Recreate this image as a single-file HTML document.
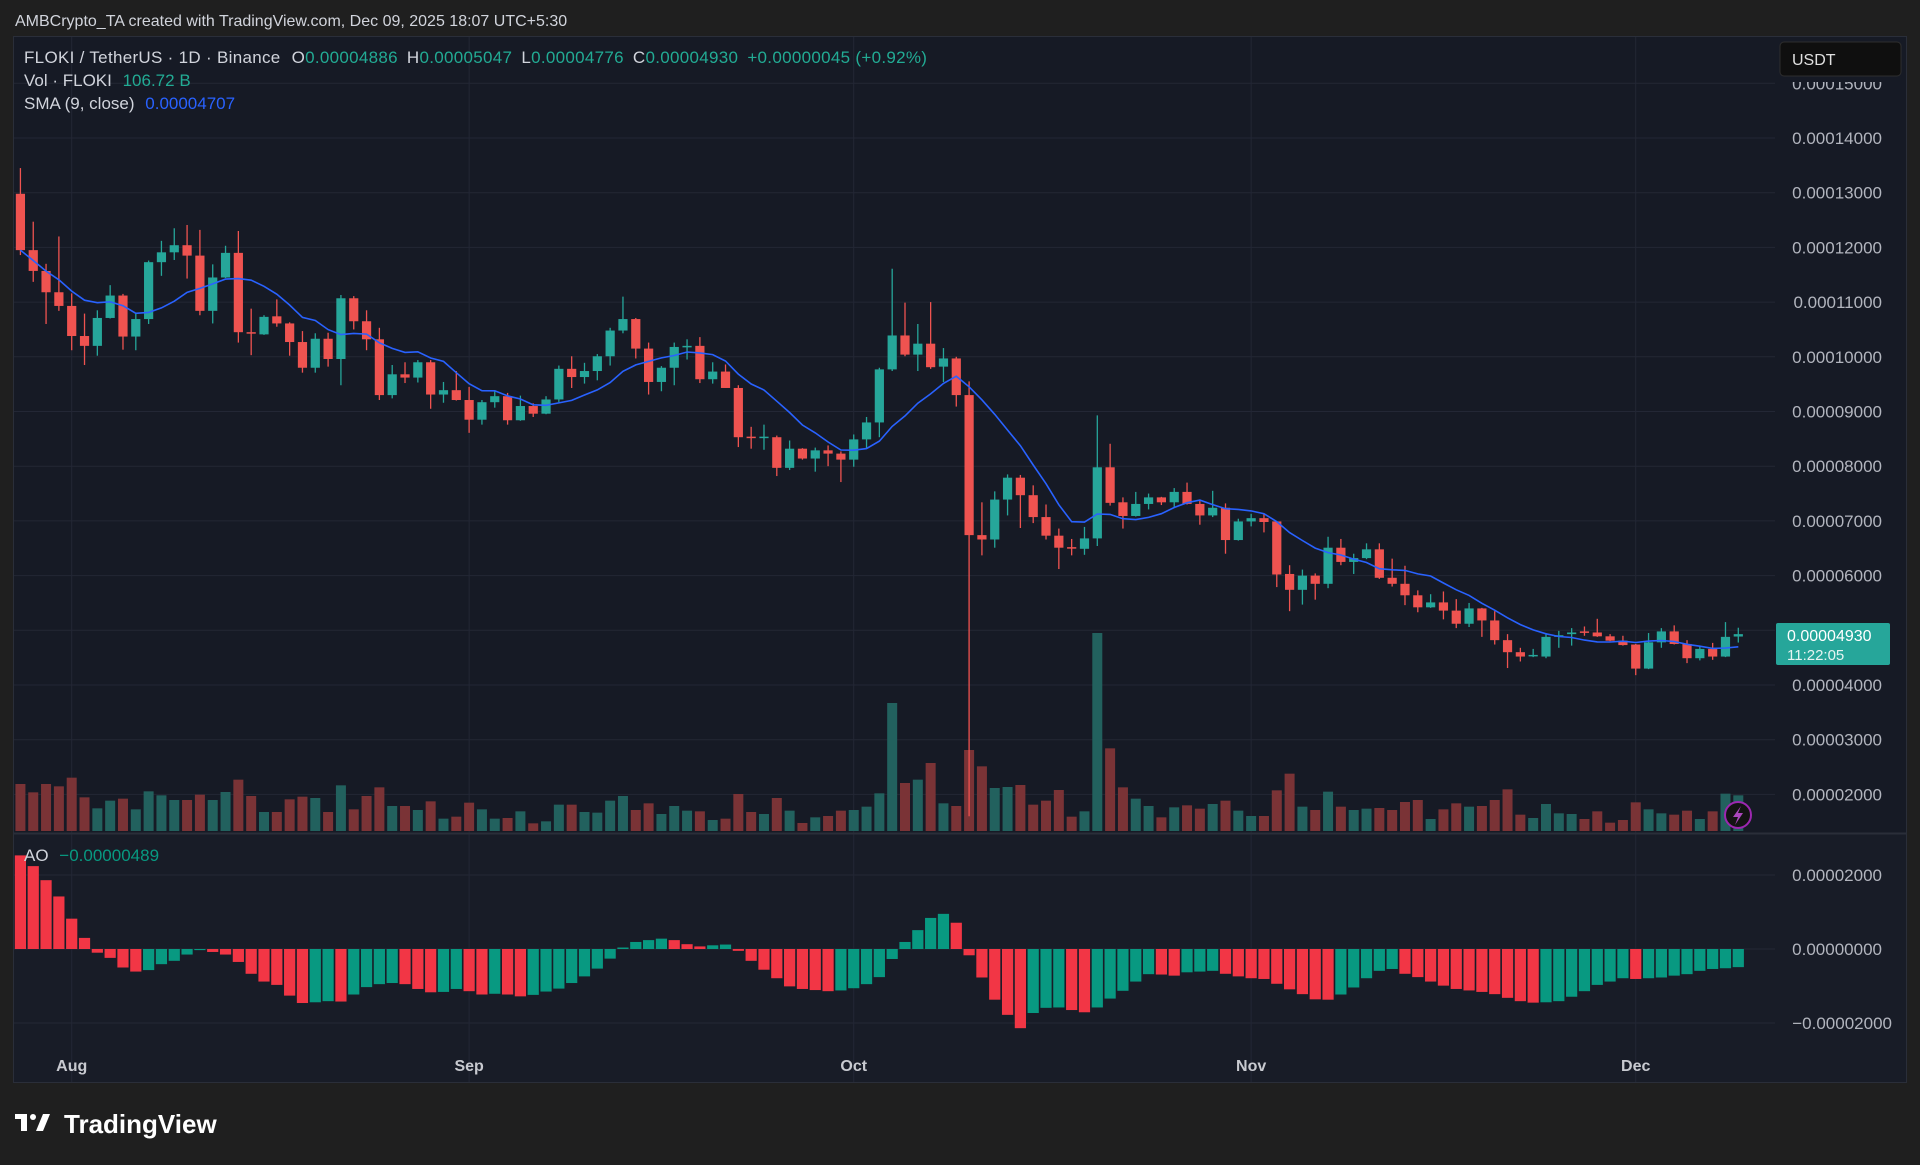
<!DOCTYPE html>
<html><head><meta charset="utf-8"><style>
html,body{margin:0;padding:0;background:#1f1f1f;}
svg{display:block;font-family:"Liberation Sans",sans-serif;}
</style></head><body>
<svg id="chart" width="1920" height="1165" viewBox="0 0 1920 1165" xmlns="http://www.w3.org/2000/svg">
<rect x="0" y="0" width="1920" height="1165" fill="#1f1f1f"/>
<text x="15" y="26" font-size="16" fill="#d1d4dc">AMBCrypto_TA created with TradingView.com, Dec 09, 2025 18:07 UTC+5:30</text>
<rect x="13.5" y="36.5" width="1893" height="1046" fill="#161a25" stroke="#2a2e39"/>
<rect x="14" y="834" width="1892" height="248" fill="#181c27"/>
<g id="grid"></g>
<g id="volumes"></g>
<g id="candles"></g>
<path id="sma" fill="none" stroke="#2962ff" stroke-width="1.6"/>
<g id="ao"></g>
<line x1="14" y1="833.5" x2="1906" y2="833.5" stroke="#2a2e39" stroke-width="2"/>
<g id="axes"></g>
<rect x="1776" y="37" width="130" height="45" fill="#161a25"/>
<g font-size="17">
<text x="24" y="63" fill="#d1d4dc" letter-spacing="0.3">FLOKI / TetherUS · 1D · Binance <tspan dx="6">O</tspan><tspan fill="#22ab94">0.00004886</tspan><tspan dx="9">H</tspan><tspan fill="#22ab94">0.00005047</tspan><tspan dx="9">L</tspan><tspan fill="#22ab94">0.00004776</tspan><tspan dx="9">C</tspan><tspan fill="#22ab94">0.00004930</tspan><tspan dx="9" fill="#22ab94">+0.00000045 (+0.92%)</tspan></text>
<text x="24" y="86" fill="#d1d4dc">Vol · FLOKI <tspan dx="6" fill="#22ab94">106.72 B</tspan></text>
<text x="24" y="109" fill="#d1d4dc">SMA (9, close) <tspan dx="6" fill="#2962ff">0.00004707</tspan></text>
<text x="24" y="861" fill="#d1d4dc">AO <tspan dx="6" fill="#089981">−0.00000489</tspan></text>
</g>
<rect x="1780" y="42" width="121" height="34" rx="4" fill="#0f0f0f" stroke="#2e2e2e"/>
<text x="1792" y="65" font-size="16" fill="#e0e0e0">USDT</text>
<rect x="1776" y="623" width="114" height="42" rx="2" fill="#26a69a"/>
<text x="1787" y="641" font-size="16" fill="#ffffff">0.00004930</text>
<text x="1787" y="660" font-size="15" fill="#e6f4f2">11:22:05</text>
<g>
<circle cx="1738" cy="815" r="13" fill="#131313" stroke="#9c27b0" stroke-width="2"/>
<polygon points="1741,806 1733,817 1738,817 1735,825 1743,813 1738,813" fill="#ab47bc"/>
</g>
<g>
<rect x="15" y="1114" width="12" height="5" fill="#ffffff"/>
<rect x="21" y="1114" width="6" height="17" fill="#ffffff"/>
<circle cx="33" cy="1117" r="3" fill="#ffffff"/>
<polygon points="36,1131 43,1114 50,1114 43,1131" fill="#ffffff"/>
<text x="64" y="1133" font-size="26" font-weight="bold" fill="#ffffff">TradingView</text>
</g>
</svg>
<script>
const opens=[12.98,11.95,11.57,11.18,10.93,10.38,10.2,10.71,11.12,10.37,10.69,11.73,11.91,12.04,11.85,10.84,11.45,11.9,10.45,10.41,10.74,10.61,10.27,9.8,10.33,9.96,11.07,10.65,10.32,9.3,9.68,9.62,9.9,9.31,9.39,9.21,8.85,9.17,9.28,8.84,9.1,8.96,9.22,9.78,9.63,9.74,10.01,10.48,10.69,10.15,9.54,9.8,10.18,10.2,9.59,9.73,9.43,8.54,8.53,8.53,7.97,8.32,8.14,8.29,8.23,8.12,8.49,8.8,9.77,10.39,10.04,10.24,9.82,9.97,9.3,6.74,6.66,7.39,7.79,7.47,7.07,6.73,6.52,6.49,6.68,7.98,7.34,7.09,7.31,7.43,7.34,7.53,7.31,7.1,7.24,6.65,6.99,7.05,6.99,6.03,5.74,6.0,5.85,6.51,6.25,6.32,6.48,5.96,5.85,5.64,5.42,5.51,5.36,5.12,5.4,5.18,4.82,4.6,4.54,4.52,4.88,4.93,4.98,4.96,4.89,4.81,4.74,4.3,4.78,4.98,4.75,4.49,4.66,4.52,4.886];
const highs=[13.45,12.47,11.7,12.2,11.16,10.79,10.85,11.31,11.15,10.8,11.76,12.12,12.35,12.41,12.32,11.69,12.03,12.3,10.88,10.76,11.05,10.63,10.47,10.43,10.44,11.13,11.11,10.85,10.53,9.85,9.9,9.94,9.94,9.54,9.74,9.45,9.21,9.39,9.34,9.29,9.15,9.28,9.84,10.01,9.89,10.05,10.53,11.1,10.71,10.26,9.83,10.26,10.32,10.36,9.9,9.86,9.48,8.72,8.76,8.56,8.47,8.33,8.34,8.38,8.27,8.58,8.9,9.8,11.61,10.99,10.6,11.0,10.16,10.0,9.55,7.34,7.54,7.85,7.84,7.65,7.3,6.86,6.67,6.89,8.93,8.41,7.43,7.53,7.5,7.44,7.6,7.7,7.39,7.55,7.32,7.04,7.13,7.13,6.99,6.19,6.11,6.04,6.71,6.67,6.4,6.59,6.59,6.31,6.18,5.73,5.66,5.71,5.57,5.5,5.41,5.35,4.93,4.68,4.66,4.95,4.99,5.04,5.07,5.21,4.93,4.9,4.75,4.95,5.04,5.09,4.82,4.71,4.77,5.15,5.047];
const lows=[11.86,11.37,10.6,10.84,10.12,9.85,10.02,10.7,10.13,10.12,10.6,11.48,11.77,11.43,10.76,10.61,11.44,10.26,10.03,10.4,10.55,10.02,9.71,9.71,9.82,9.48,10.5,10.12,9.21,9.24,9.52,9.53,9.05,9.16,9.2,8.61,8.76,9.07,8.76,8.83,8.9,8.95,9.17,9.43,9.51,9.57,9.84,10.43,9.97,9.31,9.37,9.48,9.95,9.52,9.51,9.43,8.35,8.32,8.3,7.82,7.93,8.12,7.9,8.0,7.71,7.99,8.32,8.53,9.74,10.01,9.74,9.78,9.54,9.09,1.6,6.37,6.51,7.1,6.87,6.96,6.66,6.12,6.37,6.38,6.54,7.28,6.86,7.08,7.21,7.29,7.24,7.3,6.93,7.07,6.4,6.64,6.9,6.79,5.79,5.35,5.47,5.56,5.77,6.19,6.03,6.3,5.94,5.8,5.46,5.33,5.41,5.2,5.04,5.06,4.88,4.74,4.31,4.43,4.51,4.49,4.68,4.72,4.9,4.88,4.8,4.72,4.18,4.29,4.68,4.74,4.4,4.45,4.46,4.51,4.776];
const closes=[11.95,11.57,11.18,10.93,10.38,10.2,10.71,11.12,10.37,10.69,11.73,11.91,12.04,11.85,10.84,11.45,11.9,10.45,10.43,10.73,10.61,10.27,9.8,10.33,9.96,11.07,10.65,10.32,9.3,9.68,9.62,9.9,9.31,9.39,9.21,8.85,9.17,9.28,8.84,9.1,8.96,9.22,9.78,9.63,9.74,10.01,10.48,10.69,10.15,9.54,9.8,10.18,10.2,9.59,9.73,9.43,8.53,8.53,8.54,7.97,8.32,8.14,8.29,8.23,8.12,8.49,8.8,9.77,10.39,10.04,10.24,9.81,9.97,9.3,6.74,6.66,7.39,7.79,7.47,7.07,6.73,6.51,6.51,6.68,7.98,7.33,7.09,7.31,7.43,7.34,7.53,7.31,7.1,7.24,6.65,6.99,7.05,6.98,6.02,5.74,6.0,5.85,6.51,6.25,6.32,6.48,5.96,5.85,5.64,5.42,5.51,5.36,5.12,5.4,5.18,4.82,4.6,4.52,4.55,4.88,4.91,4.96,4.96,4.89,4.81,4.73,4.3,4.78,4.98,4.75,4.49,4.66,4.52,4.88,4.93];
const volumes=[141,116,141,134,160,101,68,91,97,65,119,107,93,93,109,93,117,154,105,57,57,95,103,99,57,137,65,105,131,75,75,63,89,37,43,85,65,37,39,59,23,29,79,79,57,55,91,105,63,83,51,75,61,59,33,37,111,57,51,99,61,24,41,45,61,63,73,113,384,144,154,204,83,75,243,194,129,132,138,79,91,123,43,59,594,248,131,97,75,41,71,77,67,81,91,61,45,45,122,172,73,63,118,73,63,67,69,63,87,93,36,65,83,73,75,93,125,49,39,81,53,51,36,59,25,33,86,65,53,49,61,36,59,112,107];
const aoValues=[25.3,22.4,18.6,14.2,8.2,3.0,-1.0,-2.4,-5.0,-6.1,-5.7,-4.1,-3.2,-1.5,-0.3,-0.8,-1.5,-3.5,-6.7,-8.8,-9.7,-12.6,-14.6,-14.4,-14.1,-14.2,-12.3,-10.3,-9.5,-9.2,-9.5,-10.8,-11.7,-11.6,-10.8,-11.4,-12.3,-12.1,-12.3,-12.8,-12.4,-11.5,-10.7,-9.2,-7.4,-5.3,-2.6,0.4,1.9,2.4,2.8,2.4,1.3,0.7,1.0,1.2,-0.5,-3.2,-5.6,-7.9,-10.1,-10.8,-11.1,-11.4,-11.2,-10.6,-9.5,-7.6,-2.7,1.9,5.1,8.4,9.5,7.1,-1.7,-7.7,-13.7,-17.8,-21.4,-17.3,-15.9,-15.8,-16.5,-17.1,-15.8,-13.4,-11.3,-8.8,-6.8,-6.9,-7.2,-6.3,-6.1,-5.9,-6.7,-7.4,-7.9,-8.1,-9.4,-10.9,-12.2,-13.6,-13.7,-12.3,-10.4,-7.9,-5.9,-5.4,-6.7,-7.6,-8.8,-9.9,-10.8,-11.2,-11.6,-12.2,-13.2,-14.1,-14.5,-14.4,-14.1,-12.9,-11.4,-9.7,-8.8,-7.9,-8.1,-7.9,-7.7,-7.2,-6.8,-5.9,-5.4,-5.2,-4.9];
const priceTicks=[15,14,13,12,11,10,9,8,7,6,5,4,3,2];
const priceTickLabels=["0.00015000","0.00014000","0.00013000","0.00012000","0.00011000","0.00010000","0.00009000","0.00008000","0.00007000","0.00006000","0.00005000","0.00004000","0.00003000","0.00002000"];
const aoTicks=[20,0,-20];
const aoTickLabels=["0.00002000","0.00000000","−0.00002000"];
const monthLabels=["Aug","Sep","Oct","Nov","Dec"];
const monthIndex=[4,35,65,96,126];
const smaPeriod=9;

const NS="http://www.w3.org/2000/svg";
const GREEN="#26a69a",RED="#ef5350";
function xAt(i){return 71.7+(i-4)*12.82;}
function yPrice(p){return 192.7+(13-p)*54.7;}
function yVolH(v){return v/3;}
function yAo(v){return 949-v*3.7;}
const VOL_BASE=831;
function mk(tag,attrs,parent){const e=document.createElementNS(NS,tag);for(const k in attrs)e.setAttribute(k,attrs[k]);parent.appendChild(e);return e;}

const grid=document.getElementById('grid');
priceTicks.forEach((t,i)=>{
  const l=mk('line',{x1:14,x2:1775,y1:yPrice(t),y2:yPrice(t),stroke:'#232735','stroke-width':1},grid);
  
  
});
aoTicks.forEach(t=>{
  const l=mk('line',{x1:14,x2:1775,y1:yAo(t),y2:yAo(t),stroke:'#232735','stroke-width':1},grid);
  
  
});
monthIndex.forEach(mi=>{
  const l=mk('line',{x1:xAt(mi),x2:xAt(mi),y1:37,y2:1082,stroke:'#232735','stroke-width':1},grid);
  
  
});

const vg=document.getElementById('volumes');
volumes.forEach((v,i)=>{
  const up=closes[i]>=opens[i];
  const h=yVolH(v);
  const r=mk('rect',{x:xAt(i)-5,y:VOL_BASE-h,width:10,height:h,fill:up?'#22615e':'#7a3336'},vg);
  
  
});

const cg=document.getElementById('candles');
opens.forEach((o,i)=>{
  const c=closes[i],up=c>=o,col=up?GREEN:RED,x=xAt(i);
  const w=mk('line',{x1:x,x2:x,y1:yPrice(highs[i]),y2:yPrice(lows[i]),stroke:col,'stroke-width':1.3},cg);
  
  
  const top=yPrice(Math.max(o,c)),bot=yPrice(Math.min(o,c));
  const b=mk('rect',{x:x-4.6,y:top,width:9.2,height:Math.max(1.5,bot-top),fill:col},cg);
  
  
});

let d='';
closes.forEach((c,i)=>{
  const s=Math.max(0,i-smaPeriod+1);let sum=0;for(let k=s;k<=i;k++)sum+=closes[k];
  const v=sum/(i-s+1);
  d+=(i?'L':'M')+xAt(i).toFixed(1)+' '+yPrice(v).toFixed(1);
});
document.getElementById('sma').setAttribute('d',d);

const ag=document.getElementById('ao');
aoValues.forEach((v,i)=>{
  const up=i===0?false:v>aoValues[i-1];
  const y0=yAo(0),y1=yAo(v);
  const r=mk('rect',{x:xAt(i)-5.6,y:Math.min(y0,y1),width:11.2,height:Math.max(1,Math.abs(y1-y0)),fill:up?'#089981':'#f23645'},ag);
  
  
});

const ax=document.getElementById('axes');
priceTicks.forEach((t,i)=>{
  const e=mk('text',{x:1882,y:yPrice(t)+6,'font-size':17,fill:'#b2b5be','text-anchor':'end'},ax);
  e.textContent=priceTickLabels[i];
  
  
});
aoTicks.forEach((t,i)=>{
  const e=mk('text',{x:t<0?1892:1882,y:yAo(t)+6,'font-size':17,fill:'#b2b5be','text-anchor':'end'},ax);
  e.textContent=aoTickLabels[i];
  
  
});
monthIndex.forEach((mi,i)=>{
  const e=mk('text',{x:xAt(mi),y:1071,'font-size':16,'font-weight':'bold',fill:'#c8cad0','text-anchor':'middle'},ax);
  e.textContent=monthLabels[i];
  
  
});
</script>
</body></html>
